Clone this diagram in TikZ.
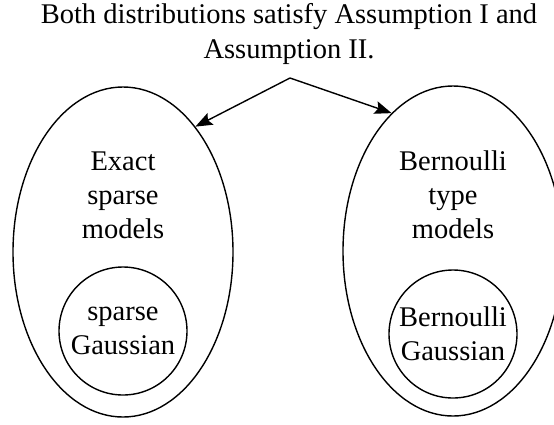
\documentclass[tikz,border=0pt]{standalone}
\usepackage{fontspec}
\setmainfont{Liberation Serif}
\usetikzlibrary{arrows.meta,shapes.geometric}

\tikzset{
	family/.style={draw, ellipse, minimum width=220pt, minimum height=330pt, inner sep=0pt},
	member/.style={draw, circle, minimum size=128pt, inner sep=0pt, align=center, font=\fontsize{28.5}{34}\selectfont},
	caption/.style={align=center, inner sep=0pt, font=\fontsize{28.5}{34}\selectfont}
}

\begin{document}
\begin{tikzpicture}[x=1pt, y=-1pt, >={Stealth[length=17pt,width=13pt,inset=3pt]}, line width=1.4pt]
	\clip (0,0) rectangle (554,424);

	% Heading and the point where both arrows start
	\node [caption, font=\fontsize{28.5}{35}\selectfont] (head) at (289,34) {Both distributions satisfy Assumption I and\\Assumption II.};
	\coordinate (split) at (290,78);

	% Families {exact, bern} with their members
	\node [family] 	(exact) 	at (123,252) {};
	\node [family] 	(bern) 		at (453,251) {};
	\node [caption] (exactname) at (123,195) {Exact\\sparse\\models};
	\node [caption] (bernname) 	at (453,195) {Bernoulli\\type\\models};
	\node [member] 	(sg) 		at (123,331) {sparse\\Gaussian};
	\node [member] 	(bg) 		at (453,334) {Bernoulli\\Gaussian};

	% Arrows
	\draw [->] (split) -- (exact.60);
	\draw [->] (split) -- (bern.114);
\end{tikzpicture}
\end{document}
